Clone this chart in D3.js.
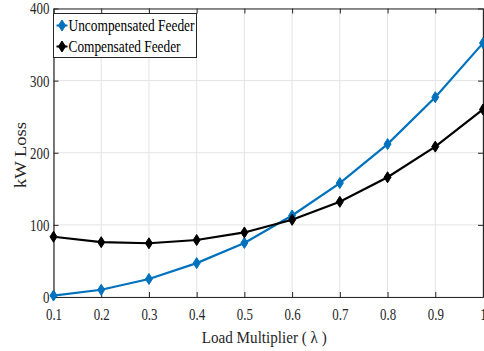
<!DOCTYPE html>
<html lang="en">
<head>
<meta charset="UTF-8">
<title>kW Loss vs Load Multiplier</title>
<script src="https://d3js.org/d3.v7.min.js"></script>
<style>
  body { margin: 0; background: #fff; }
</style>
</head>
<body>
<div id="chart"></div>
<script>
// data
const lambdas = [0.1, 0.2, 0.3, 0.4, 0.5, 0.6, 0.7, 0.8, 0.9, 1.0];
const uncompensated = [2, 10, 25, 47, 75, 113, 158, 212, 277, 352];
const compensated = [83.5, 76, 74.5, 79, 89.5, 107, 132, 166, 208.5, 260];
const xTicks = [0.1, 0.2, 0.3, 0.4, 0.5, 0.6, 0.7, 0.8, 0.9, 1];
const yTicks = [0, 100, 200, 300, 400];

const FONT = '"Liberation Serif", "Times New Roman", serif';
const INK = "#262626";

const W = 484, H = 351;
const margin = { top: 8.5, right: 1, bottom: 54, left: 53.5 };
const width = W - margin.left - margin.right;
const height = H - margin.top - margin.bottom;

const svg = d3.select("#chart").append("svg")
  .attr("width", W).attr("height", H);
const g = svg.append("g")
  .attr("transform", `translate(${margin.left},${margin.top})`);

const x = d3.scaleLinear().domain([0.1, 1]).range([0, width]);
const y = d3.scaleLinear().domain([0, 400]).range([height, 0]);

// grid
g.selectAll(".gx").data(xTicks).enter().append("line")
  .attr("x1", d => x(d)).attr("x2", d => x(d))
  .attr("y1", 0).attr("y2", height)
  .attr("stroke", "#e3e3e3").attr("stroke-width", 1);
g.selectAll(".gy").data(yTicks).enter().append("line")
  .attr("x1", 0).attr("x2", width)
  .attr("y1", d => y(d)).attr("y2", d => y(d))
  .attr("stroke", "#e3e3e3").attr("stroke-width", 1);

// axes (ticks pointing inward, box on all sides)
const fmtX = d => d === 1 ? "1" : d3.format(".1f")(d);
const axBottom = g.append("g").attr("transform", `translate(0,${height})`)
  .call(d3.axisBottom(x).tickValues(xTicks).tickFormat(fmtX).tickSizeInner(-5).tickSizeOuter(0).tickPadding(10.5));
const axTop = g.append("g")
  .call(d3.axisTop(x).tickValues(xTicks).tickFormat("").tickSizeInner(-5).tickSizeOuter(0));
const axLeft = g.append("g")
  .call(d3.axisLeft(y).tickValues(yTicks).tickSizeInner(-5).tickSizeOuter(0).tickPadding(4));
const axRight = g.append("g").attr("transform", `translate(${width},0)`)
  .call(d3.axisRight(y).tickValues(yTicks).tickFormat("").tickSizeInner(-5).tickSizeOuter(0));

[axBottom, axTop, axLeft, axRight].forEach(a => {
  a.select(".domain").attr("stroke", INK).attr("stroke-width", 1.2);
  a.selectAll(".tick line").attr("stroke", INK);
  a.selectAll("text").attr("font-size", 17).attr("fill", INK);
});

// series
const line = d3.line().x(d => x(d[0])).y(d => y(d[1]));
const diamond = "M0,-5.5L3.5,0L0,5.5L-3.5,0Z";

const series = [
  { name: "Uncompensated Feeder", values: uncompensated, color: "#0072BD" },
  { name: "Compensated Feeder", values: compensated, color: "#000000" }
];

series.forEach(s => {
  const pts = lambdas.map((l, i) => [l, s.values[i]]);
  g.append("path").datum(pts)
    .attr("d", line)
    .attr("fill", "none")
    .attr("stroke", s.color)
    .attr("stroke-width", 2.2);
  g.selectAll(null).data(pts).enter().append("path")
    .attr("d", diamond)
    .attr("transform", d => `translate(${x(d[0])},${y(d[1])})`)
    .attr("fill", s.color)
    .attr("stroke", s.color)
    .attr("stroke-width", 1);
});

// legend
const lg = g.append("g").attr("transform", "translate(0,5)");
lg.append("rect")
  .attr("x", 0).attr("y", 0)
  .attr("width", 143).attr("height", 44)
  .attr("fill", "#fff").attr("stroke", INK).attr("stroke-width", 1);
series.forEach((s, i) => {
  const cy = 12 + i * 21;
  lg.append("line")
    .attr("x1", 3).attr("x2", 14).attr("y1", cy).attr("y2", cy)
    .attr("stroke", s.color).attr("stroke-width", 2);
  lg.append("path").attr("d", diamond)
    .attr("transform", `translate(8.5,${cy})`)
    .attr("fill", s.color).attr("stroke", s.color);
  lg.append("text")
    .attr("x", 15).attr("y", cy + 5.5)
    .attr("font-size", 16.5)
    .attr("fill", "#000")
    .attr("textLength", i === 0 ? 126 : 112)
    .attr("lengthAdjust", "spacingAndGlyphs")
    .text(s.name);
});

// axis labels
svg.append("text")
  .attr("x", margin.left + width / 2 - 4).attr("y", 343)
  .attr("text-anchor", "middle")
  .attr("font-size", 17)
  .attr("fill", INK)
  .attr("textLength", 125)
  .attr("lengthAdjust", "spacingAndGlyphs")
  .text("Load Multiplier ( \u03bb )");

svg.append("text")
  .attr("transform", `translate(26,155) rotate(-90)`)
  .attr("text-anchor", "middle")
  .attr("font-size", 17)
  .attr("fill", INK)
  .attr("textLength", 66)
  .attr("lengthAdjust", "spacingAndGlyphs")
  .text("kW Loss");

// serif font everywhere, tick labels squeezed horizontally like the source
svg.selectAll("text").style("font-family", FONT);
svg.selectAll(".tick text").each(function () {
  const len = this.getComputedTextLength();
  if (len > 0) {
    d3.select(this).attr("textLength", len * 0.76).attr("lengthAdjust", "spacingAndGlyphs");
  }
});
</script>
</body>
</html>
